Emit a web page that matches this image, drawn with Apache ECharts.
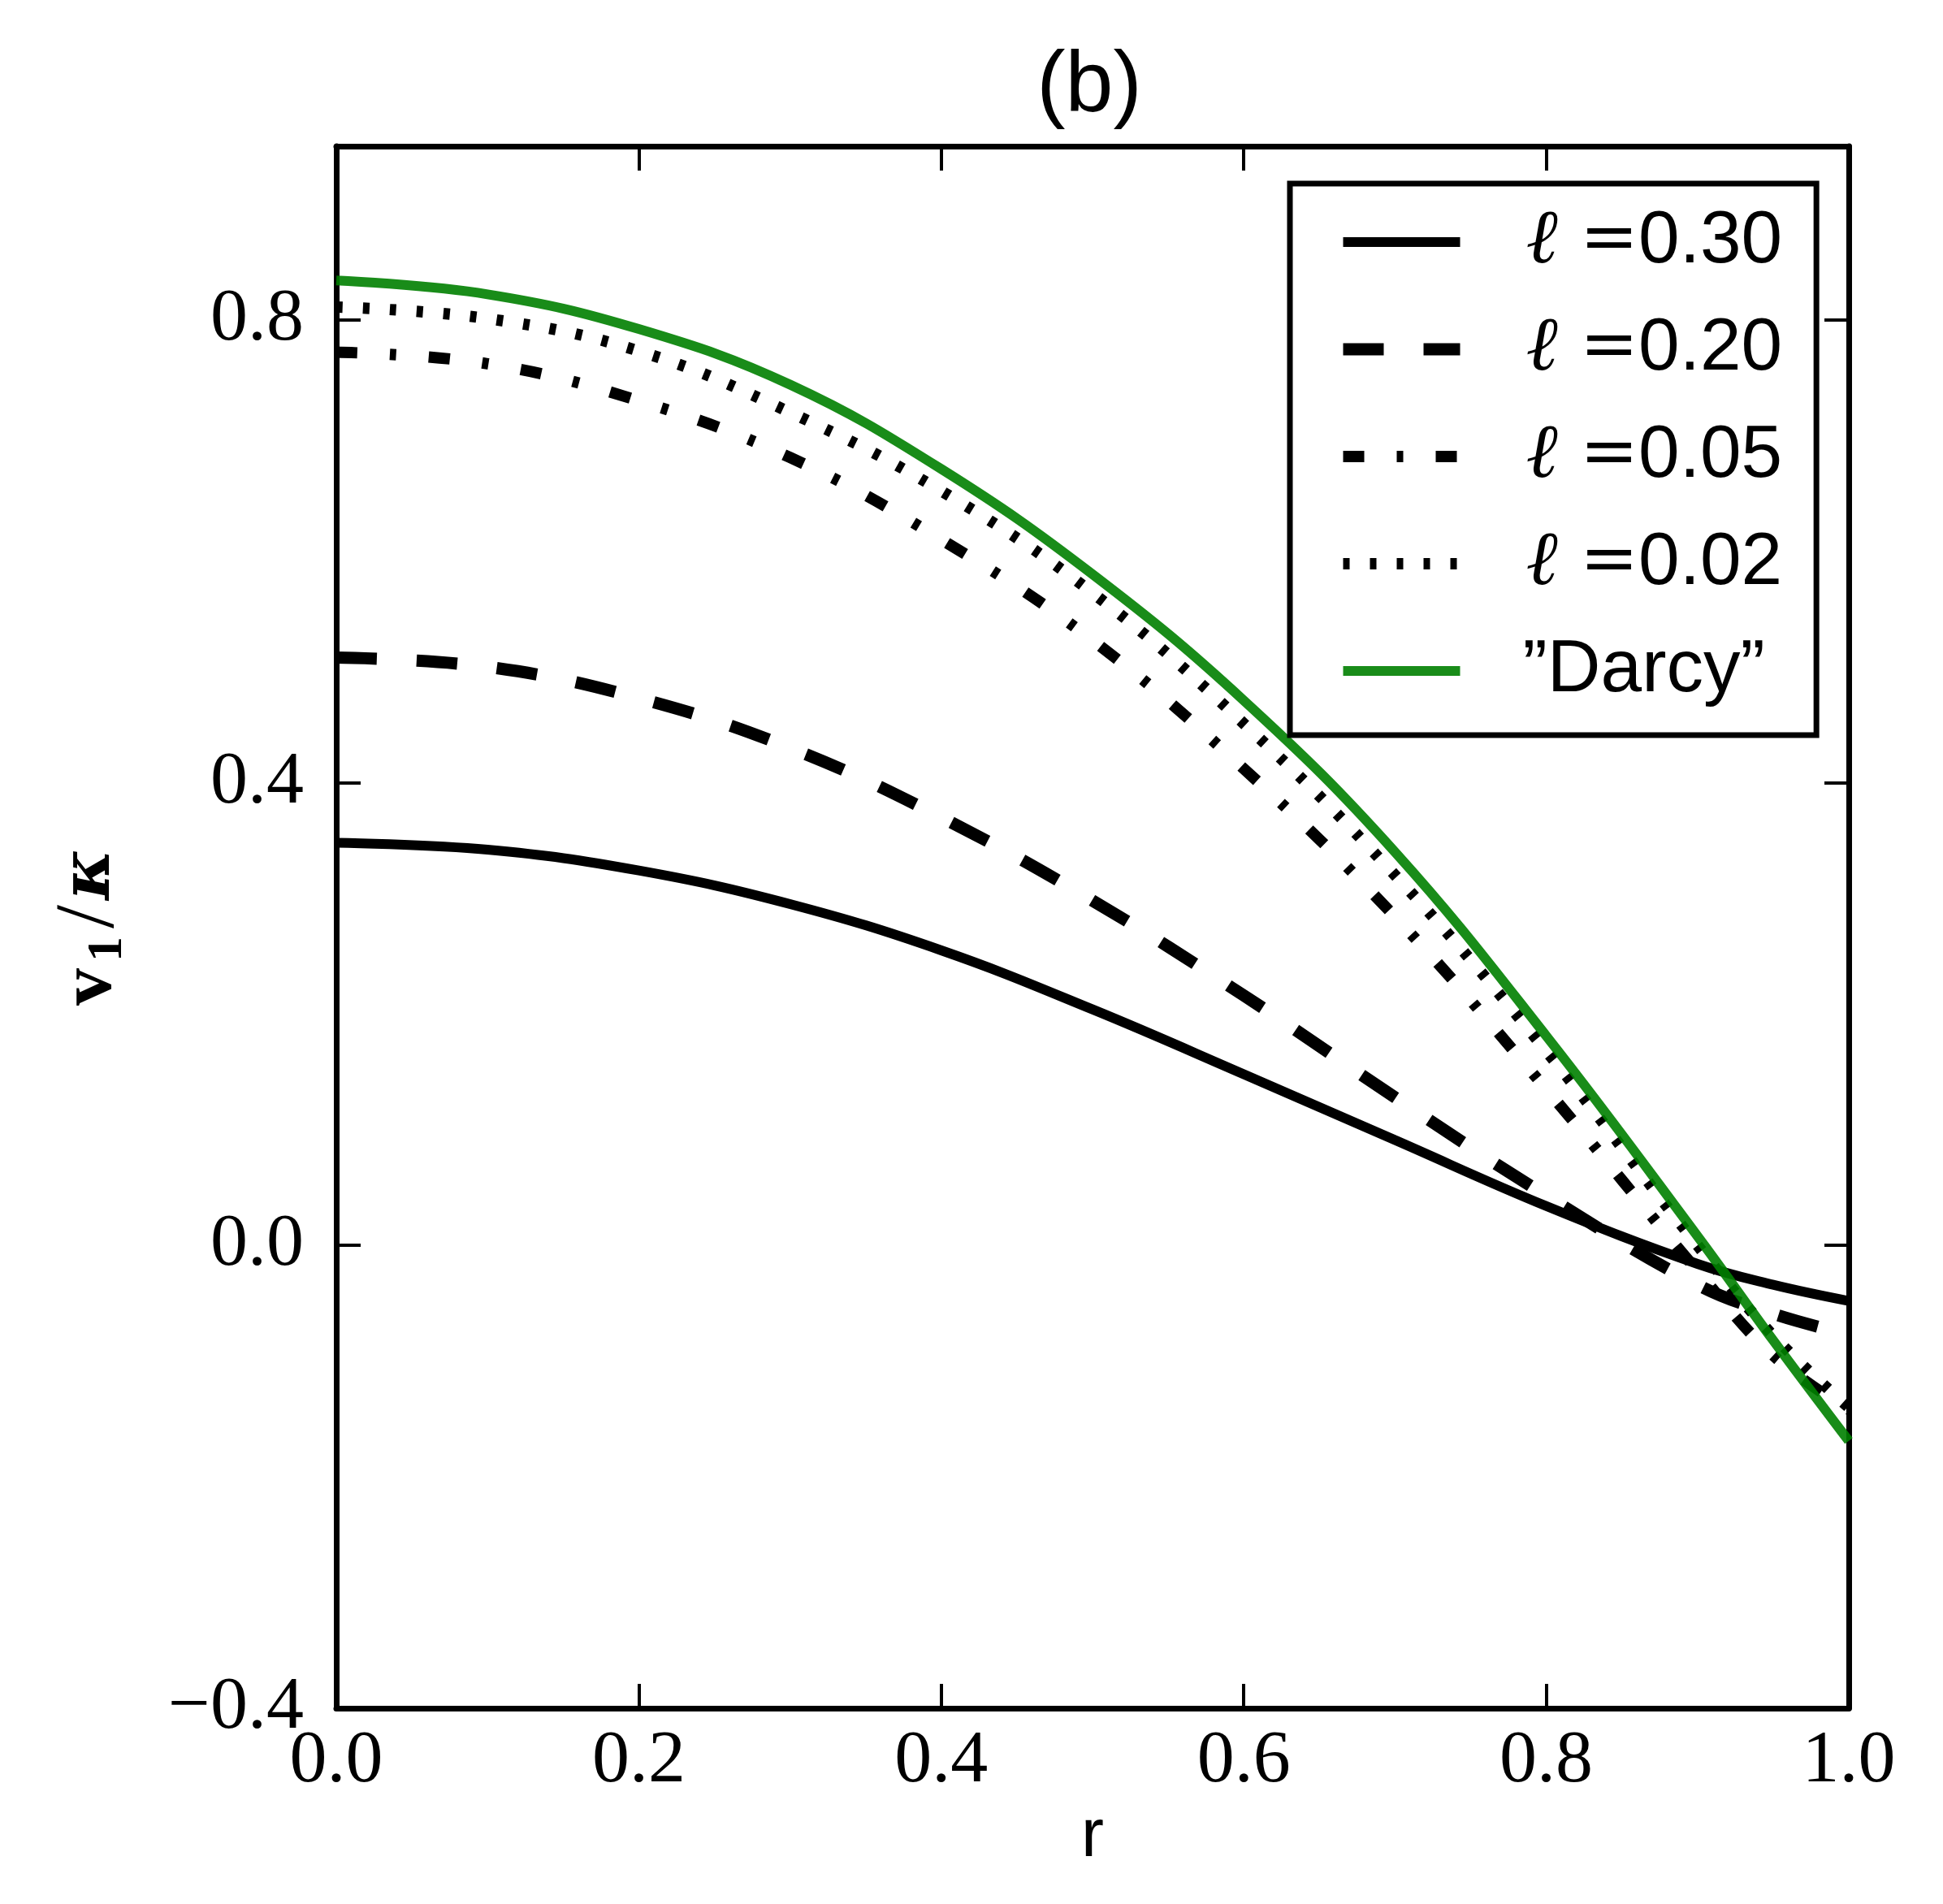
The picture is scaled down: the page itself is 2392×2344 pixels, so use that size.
<!DOCTYPE html>
<html>
<head>
<meta charset="utf-8">
<script src="https://cdn.jsdelivr.net/npm/echarts@6/dist/echarts.min.js"></script>
<style>
html, body { margin: 0; padding: 0; background: #fff; }
#main { width: 2392px; height: 2344px; }
</style>
</head>
<body>
<div id="main"></div>
<script>
// values, r from 0 to 1
var rValues = [0, 0.1, 0.2, 0.3, 0.4, 0.5, 0.6, 0.7, 0.8, 0.9, 0.95, 1.0];
var ell030 = [0.348, 0.342, 0.324, 0.295, 0.255, 0.204, 0.148, 0.091, 0.034, -0.016, -0.034, -0.048];
var ell020 = [0.508, 0.500, 0.473, 0.430, 0.370, 0.298, 0.216, 0.128, 0.043, -0.034, -0.059, -0.077];
var ell005 = [0.772, 0.762, 0.730, 0.681, 0.610, 0.523, 0.412, 0.284, 0.135, -0.022, -0.095, -0.142];
var ell002 = [0.811, 0.801, 0.773, 0.720, 0.652, 0.564, 0.451, 0.320, 0.168, 0.000, -0.078, -0.140];
var darcy  = [0.834, 0.822, 0.792, 0.744, 0.671, 0.580, 0.471, 0.340, 0.181, 0.008, -0.082, -0.169];

var seriesNames = ['\u2113 =0.30', '\u2113 =0.20', '\u2113 =0.05', '\u2113 =0.02', '\u201DDarcy\u201D'];
var yTicks = [-0.4, 0, 0.4, 0.8];

function pairs(ys) {
    return rValues.map(function (r, i) { return [r, ys[i]]; });
}

function fmt(v) {
    return (v < 0 ? '\u2212' : '') + Math.abs(v).toFixed(1);
}

var chart = echarts.init(document.getElementById('main'));

function curve(name, ys, color, width, dash, opacity) {
    return {
        name: name,
        type: 'line',
        data: pairs(ys),
        smooth: 0.4,
        symbol: 'none',
        xAxisIndex: 0,
        yAxisIndex: 0,
        lineStyle: { color: color, width: width, type: dash, opacity: opacity },
        itemStyle: { color: color }
    };
}

var axisLineStyle = { onZero: false, lineStyle: { color: '#000', width: 7 } };
var tickStyle = { inside: true, length: 30, lineStyle: { color: '#000', width: 4 } };

chart.setOption({
    animation: false,
    backgroundColor: '#fff',
    title: {
        text: '(b)',
        left: 1336,
        top: 50,
        textAlign: 'center',
        textStyle: { fontFamily: 'Liberation Sans', fontSize: 106, fontWeight: 'normal', color: '#000' }
    },
    grid: { left: 414, right: 116, top: 180, bottom: 241 },
    legend: {
        orient: 'vertical',
        left: 1588,
        top: 226,
        data: seriesNames,
        itemWidth: 144,
        itemHeight: 20,
        itemGap: 0,
        padding: [6, 42, 13, 58],
        borderColor: '#000',
        borderWidth: 7,
        borderRadius: 0,
        backgroundColor: '#fff',
        itemStyle: { color: 'rgba(0,0,0,0)', borderColor: 'rgba(0,0,0,0)', borderWidth: 0 },
        lineStyle: { width: 'inherit', type: 'inherit', color: 'inherit' },
        formatter: function (name) {
            if (name.charAt(0) === '\u2113') {
                return '{l|\u2113}{e| =}{n|' + name.slice(3) + '}';
            }
            return '{d|' + name + '}';
        },
        textStyle: {
            color: '#000',
            lineHeight: 132,
            rich: {
                l: { fontFamily: 'Liberation Serif', fontStyle: 'italic', fontSize: 94, lineHeight: 132, padding: [0, 0, 0, 76] },
                e: { fontFamily: 'DejaVu Serif', fontSize: 86, lineHeight: 132 },
                n: { fontFamily: 'Liberation Sans', fontSize: 91, lineHeight: 132 },
                d: { fontFamily: 'Liberation Sans', fontSize: 91, lineHeight: 132, padding: [0, 0, 0, 72] }
            }
        }
    },
    xAxis: [{
        type: 'value',
        min: 0, max: 1, interval: 0.2,
        position: 'bottom',
        name: 'r',
        nameLocation: 'middle',
        nameGap: 110,
        nameTextStyle: { fontFamily: 'Liberation Sans', fontSize: 84, color: '#000' },
        axisLine: axisLineStyle,
        axisTick: tickStyle,
        splitLine: { show: false },
        axisLabel: {
            margin: 20,
            color: '#000',
            fontFamily: 'Liberation Serif',
            fontSize: 92,
            formatter: fmt
        }
    }, {
        type: 'value',
        min: 0, max: 1, interval: 0.2,
        position: 'top',
        axisLine: axisLineStyle,
        axisTick: tickStyle,
        splitLine: { show: false },
        axisLabel: { show: false }
    }],
    yAxis: [{
        type: 'value',
        min: -0.4, max: 0.95, interval: 0.4,
        position: 'left',
        name: '{v|v}{s|1}{d|/}{k|\u03BA}',
        nameLocation: 'middle',
        nameGap: 250,
        nameTextStyle: {
            color: '#000',
            rich: {
                v: { fontFamily: 'Liberation Serif', fontWeight: 'bold', fontSize: 92, color: '#000' },
                s: { fontFamily: 'Liberation Serif', fontWeight: 'bold', fontSize: 62, color: '#000', verticalAlign: 'bottom', padding: [0, 10, 0, 8] },
                d: { fontFamily: 'Liberation Serif', fontSize: 104, color: '#000' },
                k: { fontFamily: 'DejaVu Serif', fontWeight: 'bold', fontStyle: 'italic', fontSize: 84, color: '#000', padding: [0, 0, 0, 6] }
            }
        },
        axisLine: axisLineStyle,
        axisTick: Object.assign({ customValues: yTicks }, tickStyle),
        splitLine: { show: false },
        axisLabel: {
            customValues: yTicks,
            margin: 40,
            color: '#000',
            fontFamily: 'Liberation Serif',
            fontSize: 92,
            formatter: fmt
        }
    }, {
        type: 'value',
        min: -0.4, max: 0.95, interval: 0.4,
        position: 'right',
        axisLine: axisLineStyle,
        axisTick: Object.assign({ customValues: yTicks }, tickStyle),
        splitLine: { show: false },
        axisLabel: { show: false }
    }],
    series: [
        curve(seriesNames[0], ell030, '#000', 12, 'solid', 1),
        curve(seriesNames[1], ell020, '#000', 15, [50, 49], 1),
        curve(seriesNames[2], ell005, '#000', 14, [26, 40, 8, 40], 1),
        curve(seriesNames[3], ell002, '#000', 14, [8, 25], 1),
        curve(seriesNames[4], darcy, '#008000', 12, 'solid', 0.9)
    ]
});
</script>
</body>
</html>
